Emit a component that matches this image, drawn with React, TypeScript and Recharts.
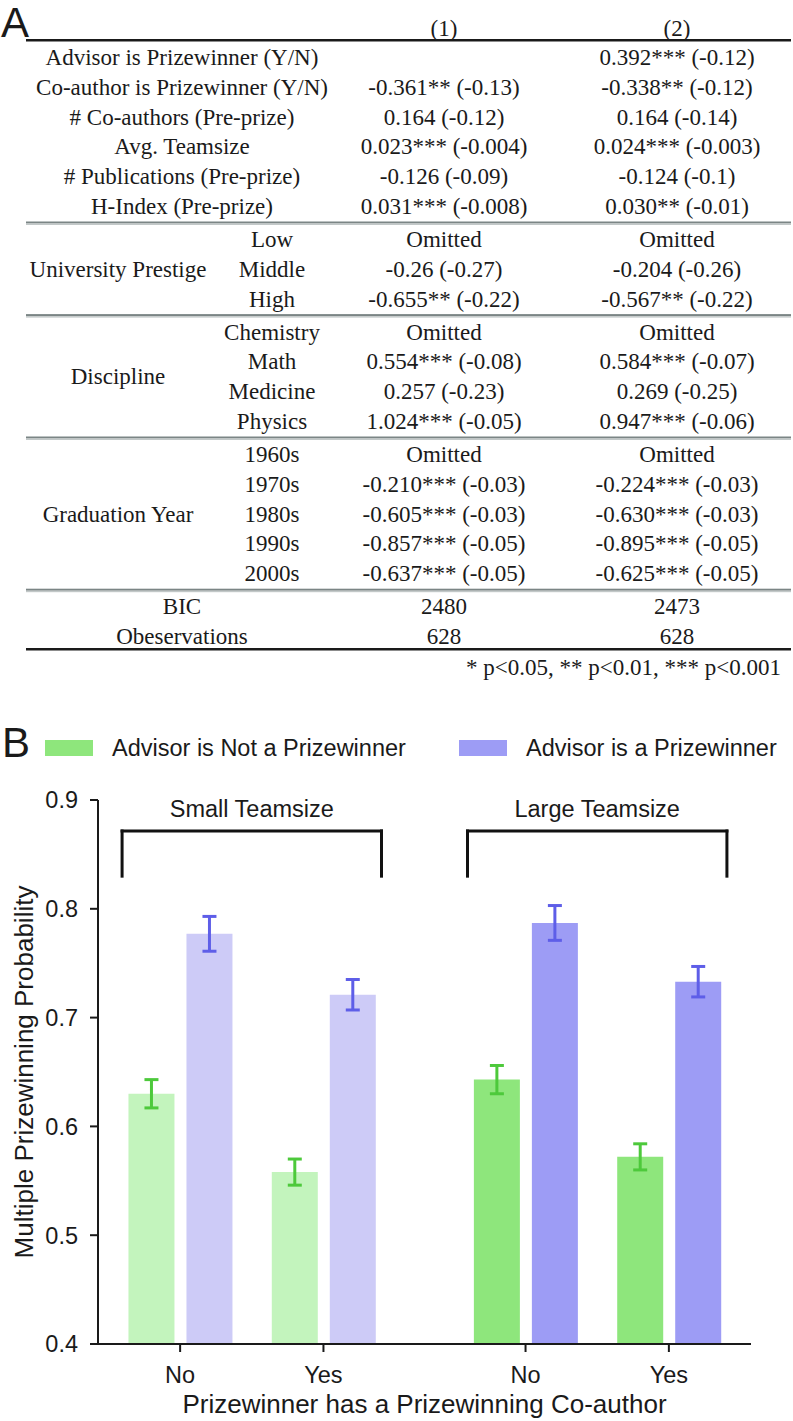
import React from "react";
import { BarChart, Bar, XAxis, YAxis, Cell, ErrorBar, ReferenceLine, Legend } from "recharts";

const SANS = "'Liberation Sans', Arial, Helvetica, sans-serif";
const SERIF = "'Liberation Serif', 'Times New Roman', serif";
const INK = "#1a1a1a";

// ---------- panel A: regression table ----------
const COLUMN_HEADS = ["(1)", "(2)"];

const MAIN_ROWS = [
  "Advisor is Prizewinner (Y/N)",
  "Co-author is Prizewinner (Y/N)",
  "# Co-authors (Pre-prize)",
  "Avg. Teamsize",
  "# Publications (Pre-prize)",
  "H-Index (Pre-prize)",
];
const MAIN_COL1 = ["", "-0.361** (-0.13)", "0.164 (-0.12)", "0.023*** (-0.004)", "-0.126 (-0.09)", "0.031*** (-0.008)"];
const MAIN_COL2 = ["0.392*** (-0.12)", "-0.338** (-0.12)", "0.164 (-0.14)", "0.024*** (-0.003)", "-0.124 (-0.1)", "0.030** (-0.01)"];

const PRESTIGE_LEVELS = ["Low", "Middle", "High"];
const PRESTIGE_COL1 = ["Omitted", "-0.26 (-0.27)", "-0.655** (-0.22)"];
const PRESTIGE_COL2 = ["Omitted", "-0.204 (-0.26)", "-0.567** (-0.22)"];

const DISCIPLINES = ["Chemistry", "Math", "Medicine", "Physics"];
const DISCIPLINE_COL1 = ["Omitted", "0.554*** (-0.08)", "0.257 (-0.23)", "1.024*** (-0.05)"];
const DISCIPLINE_COL2 = ["Omitted", "0.584*** (-0.07)", "0.269 (-0.25)", "0.947*** (-0.06)"];

const DECADES = ["1960s", "1970s", "1980s", "1990s", "2000s"];
const DECADE_COL1 = ["Omitted", "-0.210*** (-0.03)", "-0.605*** (-0.03)", "-0.857*** (-0.05)", "-0.637*** (-0.05)"];
const DECADE_COL2 = ["Omitted", "-0.224*** (-0.03)", "-0.630*** (-0.03)", "-0.895*** (-0.05)", "-0.625*** (-0.05)"];

const STATS = ["BIC", "Obeservations"];
const STATS_COL1 = ["2480", "628"];
const STATS_COL2 = ["2473", "628"];

const FOOTNOTE = "* p<0.05, ** p<0.01, *** p<0.001";

// ---------- panel B: bar chart ----------
const TEAM_SIZES = ["Small Teamsize", "Large Teamsize"];
const COAUTHOR = ["No", "Yes"];
const SERIES_NAMES = ["Advisor is Not a Prizewinner", "Advisor is a Prizewinner"];
// order: small/No, small/Yes, large/No, large/Yes
const NOT_PRIZE = [0.63, 0.558, 0.643, 0.572];
const NOT_PRIZE_ERR = [0.013, 0.012, 0.013, 0.012];
const PRIZE = [0.777, 0.721, 0.787, 0.733];
const PRIZE_ERR = [0.016, 0.014, 0.016, 0.014];
const Y_TICKS = [0.4, 0.5, 0.6, 0.7, 0.8, 0.9];

const LIGHT = { green: "#c3f4bd", purple: "#cdcbf7" };
const DARK = { green: "#8ee67c", purple: "#9d9cf5" };
const ERR = { green: "#4dc93b", purple: "#5e5ee8" };

// x layout (units = distance between No and Yes within a team-size group)
const CO_STEP = 1;
const TEAM_STEP = 2.41;
const X_PAD = 0.573;
const X_DOMAIN = [1 - X_PAD, 1 + TEAM_STEP + CO_STEP + X_PAD];

const chartData = NOT_PRIZE.map((v, i) => {
  const team = Math.floor(i / 2);
  const co = i % 2;
  return {
    x: 1 + team * TEAM_STEP + co * CO_STEP,
    team,
    label: COAUTHOR[co],
    notPrize: v,
    notPrizeErr: NOT_PRIZE_ERR[i],
    prize: PRIZE[i],
    prizeErr: PRIZE_ERR[i],
  };
});

const BRACKET_TOP = 0.8715;
const BRACKET_BOTTOM = 0.83;
const BRACKET_HALF = 0.905;

function RegressionTable() {
  const sections = [
    { group: "", labels: MAIN_ROWS, c1: MAIN_COL1, c2: MAIN_COL2 },
    { group: "University Prestige", labels: PRESTIGE_LEVELS, c1: PRESTIGE_COL1, c2: PRESTIGE_COL2 },
    { group: "Discipline", labels: DISCIPLINES, c1: DISCIPLINE_COL1, c2: DISCIPLINE_COL2 },
    { group: "Graduation Year", labels: DECADES, c1: DECADE_COL1, c2: DECADE_COL2 },
    { group: "", labels: STATS, c1: STATS_COL1, c2: STATS_COL2 },
  ];
  const rowTop = 57;
  const pitch = 29.8;
  const secGap = 3.2;
  const colX = [444, 677];
  const base = 8;

  const out: React.ReactNode[] = [];
  const rules: number[] = [];
  let row = 0;
  sections.forEach((s, si) => {
    const ys = s.labels.map((_, k) => rowTop + pitch * (row + k) + secGap * si);
    s.labels.forEach((lab, k) => {
      const y = ys[k] + base;
      out.push(
        <text key={`l${si}-${k}`} x={s.group ? 272 : 182} y={y} textAnchor="middle">{lab}</text>,
        <text key={`a${si}-${k}`} x={colX[0]} y={y} textAnchor="middle">{s.c1[k]}</text>,
        <text key={`b${si}-${k}`} x={colX[1]} y={y} textAnchor="middle">{s.c2[k]}</text>
      );
    });
    if (s.group) {
      const mid = (ys[0] + ys[ys.length - 1]) / 2 + base;
      out.push(<text key={`g${si}`} x={118} y={mid} textAnchor="middle">{s.group}</text>);
    }
    if (si < sections.length - 1) {
      const nextY = rowTop + pitch * (row + s.labels.length) + secGap * (si + 1);
      rules.push((ys[ys.length - 1] + nextY) / 2);
    }
    row += s.labels.length;
  });

  return (
    <svg width={793} height={690} style={{ position: "absolute", left: 0, top: 0 }}>
      <text x={1} y={37} fontFamily={SANS} fontSize={42} fill={INK}>A</text>
      <g fontFamily={SERIF} fontSize={23} fill={INK}>
        {COLUMN_HEADS.map((h, i) => (
          <text key={h} x={colX[i]} y={36} textAnchor="middle">{h}</text>
        ))}
        {out}
        <text x={781} y={675} textAnchor="end">{FOOTNOTE}</text>
      </g>
      <rect x={26} y={39} width={765} height={2.5} fill={INK} />
      {rules.map((y, i) => (
        <g key={i}>
          <rect x={26} y={y - 1} width={765} height={2} fill="#7b8585" />
          <rect x={26} y={y + 1} width={765} height={1.5} fill="#c2c8c8" />
        </g>
      ))}
      <rect x={26} y={648} width={765} height={2.5} fill={INK} />
    </svg>
  );
}

const LEGEND_LEFT = [45, 459];

function renderLegend(props: any) {
  const items = props.payload ?? [];
  return (
    <div style={{ position: "relative", width: 793, height: 34, fontFamily: SANS, fontSize: 23.5, color: INK }}>
      {items.map((it: any, i: number) => (
        <div
          key={i}
          style={{ position: "absolute", left: LEGEND_LEFT[i], top: 0, height: 34, display: "flex", alignItems: "center", whiteSpace: "nowrap" }}
        >
          <span style={{ display: "inline-block", width: 48, height: 16, background: it.color, marginRight: 19 }} />
          <span>{it.value}</span>
        </div>
      ))}
    </div>
  );
}

function TeamChart() {
  const axisStroke = { stroke: INK, strokeWidth: 2 };
  const tickFont = { fontSize: 23.5, fill: INK, fontFamily: SANS };
  return (
    <div style={{ position: "absolute", left: 0, top: 690, fontFamily: SANS }}>
      <svg width={60} height={70} style={{ position: "absolute", left: 0, top: 20 }}>
        <text x={2} y={47} fontFamily={SANS} fontSize={42} fill={INK}>B</text>
      </svg>
      <BarChart
        width={793}
        height={731}
        data={chartData}
        margin={{ top: 110, right: 42, bottom: 0, left: 0 }}
        barGap={12}
      >
        <XAxis
          dataKey="x"
          type="number"
          domain={X_DOMAIN}
          ticks={chartData.map((d) => d.x)}
          tickFormatter={(v: number) => chartData.find((d) => Math.abs(d.x - v) < 1e-6)?.label ?? ""}
          interval={0}
          height={77}
          axisLine={axisStroke}
          tickLine={axisStroke}
          tickSize={8}
          tickMargin={14}
          tick={tickFont}
          label={{ value: "Prizewinner has a Prizewinning Co-author", position: "insideBottom", offset: 8, fontSize: 26, fill: INK, fontFamily: SANS }}
        />
        <YAxis
          type="number"
          domain={[0.4, 0.9]}
          ticks={Y_TICKS}
          interval={0}
          width={98}
          tickFormatter={(v: number) => v.toFixed(1)}
          axisLine={axisStroke}
          tickLine={axisStroke}
          tickSize={8}
          tickMargin={12}
          tick={tickFont}
          label={{ value: "Multiple Prizewinning Probability", angle: -90, position: "insideLeft", offset: 24, style: { textAnchor: "middle" }, fontSize: 26, fill: INK, fontFamily: SANS }}
        />
        <Legend layout="vertical" align="center" verticalAlign="middle" wrapperStyle={{ top: 41, left: 0, width: 793 }} content={renderLegend} />
        <Bar dataKey="notPrize" name={SERIES_NAMES[0]} fill={DARK.green} barSize={46} isAnimationActive={false}>
          {chartData.map((d, i) => (
            <Cell key={i} fill={d.team === 0 ? LIGHT.green : DARK.green} />
          ))}
          <ErrorBar dataKey="notPrizeErr" direction="y" width={7} strokeWidth={3} stroke={ERR.green} isAnimationActive={false} />
        </Bar>
        <Bar dataKey="prize" name={SERIES_NAMES[1]} fill={DARK.purple} barSize={46} isAnimationActive={false}>
          {chartData.map((d, i) => (
            <Cell key={i} fill={d.team === 0 ? LIGHT.purple : DARK.purple} />
          ))}
          <ErrorBar dataKey="prizeErr" direction="y" width={7} strokeWidth={3} stroke={ERR.purple} isAnimationActive={false} />
        </Bar>
        {TEAM_SIZES.map((name, t) => {
          const c = 1 + t * TEAM_STEP + CO_STEP / 2;
          const l = c - BRACKET_HALF;
          const r = c + BRACKET_HALF;
          const line = { stroke: "#111", strokeWidth: 3, strokeLinecap: "square" as const };
          return [
            <ReferenceLine
              key={`h${t}`}
              segment={[{ x: l, y: BRACKET_TOP }, { x: r, y: BRACKET_TOP }]}
              {...line}
              label={{ value: name, position: "top", offset: 14, fontSize: 23.5, fill: INK, fontFamily: SANS }}
            />,
            <ReferenceLine key={`l${t}`} segment={[{ x: l, y: BRACKET_TOP }, { x: l, y: BRACKET_BOTTOM }]} {...line} />,
            <ReferenceLine key={`r${t}`} segment={[{ x: r, y: BRACKET_TOP }, { x: r, y: BRACKET_BOTTOM }]} {...line} />,
          ];
        })}
      </BarChart>
    </div>
  );
}

export default function App() {
  return (
    <div style={{ position: "absolute", left: 0, top: 0, width: 793, height: 1421, background: "#fff", overflow: "hidden" }}>
      <RegressionTable />
      <TeamChart />
    </div>
  );
}
